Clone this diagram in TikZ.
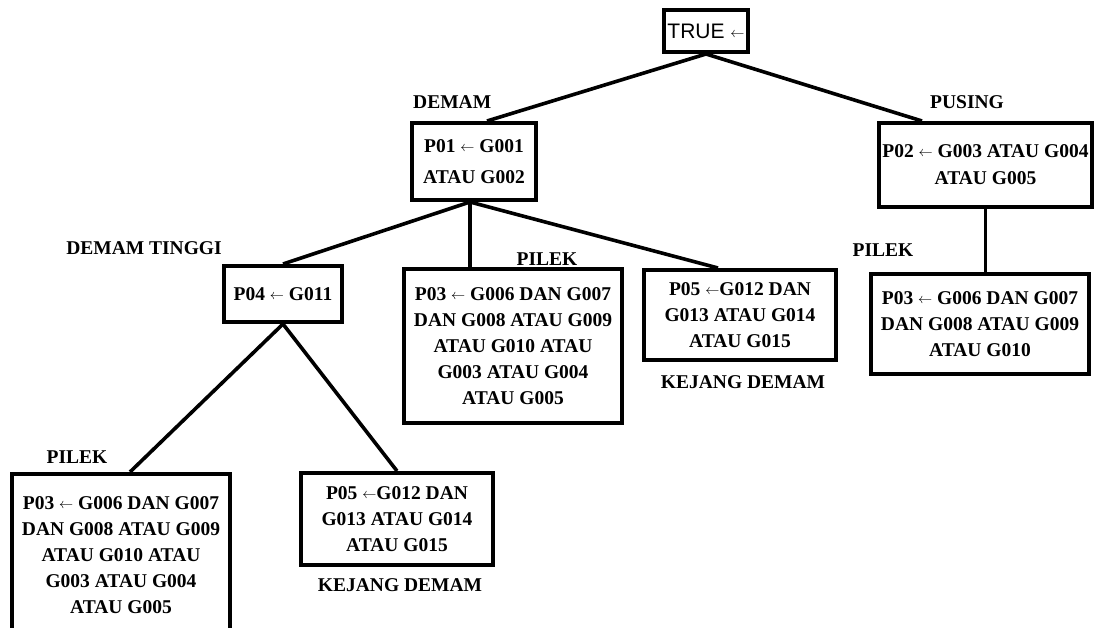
\documentclass[tikz,border=0pt]{standalone}
\usepackage{fontspec}
\setmainfont{Liberation Serif}
\newfontfamily\truefont{Liberation Sans}
\usetikzlibrary{calc}
% a short, light left arrow used inside the rules
\newcommand\ruleArrow{\raisebox{0.1ex}{\scalebox{0.68}{$\leftarrow$}}}
\begin{document}
\begin{tikzpicture}[x=1pt,y=-1pt,
  rulebox/.style={draw,line width=4pt,inner sep=0pt,align=center,
    font=\fontsize{19.5}{26}\selectfont\bfseries},
  lbl/.style={inner sep=0pt,font=\fontsize{19.5}{24}\selectfont\bfseries},
  link/.style={line width=3.6pt}]
\useasboundingbox (0,0) rectangle (1096,628);
\clip (0,0) rectangle (1096,628);

% rule boxes
\node[rulebox,minimum width=84,minimum height=42,
  font=\truefont\fontsize{21}{24}\selectfont] (true) at (706,31) {TRUE \ruleArrow};
\node[rulebox,minimum width=124,minimum height=77,
  font=\fontsize{19.5}{31}\selectfont\bfseries] (p01) at (474,161.5)
  {P01 \ruleArrow\ G001\\ATAU G002};
\node[rulebox,minimum width=213,minimum height=84,
  font=\fontsize{19.5}{27}\selectfont\bfseries] (p02) at (985.5,165)
  {P02 \ruleArrow\ G003 ATAU G004\\ATAU G005};
\node[rulebox,minimum width=218,minimum height=100] (p03r) at (980,324.5)
  {P03 \ruleArrow\ G006 DAN G007\\DAN G008 ATAU G009\\ATAU G010};
\node[rulebox,minimum width=118,minimum height=56] (p04) at (283,294)
  {P04 \ruleArrow\ G011};
\node[rulebox,minimum width=218,minimum height=154] (p03m) at (513,346)
  {P03 \ruleArrow\ G006 DAN G007\\DAN G008 ATAU G009\\ATAU G010 ATAU\\G003 ATAU G004\\ATAU G005};
\node[rulebox,minimum width=192,minimum height=90] (p05m) at (740,315)
  {P05 \ruleArrow G012 DAN\\G013 ATAU G014\\ATAU G015};
\node[rulebox,minimum width=218,minimum height=162] (p03l) at (121,555)
  {P03 \ruleArrow\ G006 DAN G007\\DAN G008 ATAU G009\\ATAU G010 ATAU\\G003 ATAU G004\\ATAU G005};
\node[rulebox,minimum width=192,minimum height=92] (p05l) at (397,519)
  {P05 \ruleArrow G012 DAN\\G013 ATAU G014\\ATAU G015};

% branch labels
\node[lbl,anchor=west] (lDemam) at (413,102) {DEMAM};
\node[lbl] (lPusing) at (967,102) {PUSING};
\node[lbl] (lPilekR) at (883,250) {PILEK};
\node[lbl] (lTinggi) at (144,248) {DEMAM TINGGI};
\node[lbl] (lPilekM) at (547,259) {PILEK};
\node[lbl] (lKejangM) at (743,382) {KEJANG DEMAM};
\node[lbl] (lPilekL) at (77,457) {PILEK};
\node[lbl] (lKejangL) at (400,585) {KEJANG DEMAM};

% connectors
\coordinate (p01s) at ($(p01.south)+(-4,0)$);
\draw[link] (true.south) -- ($(p01.north)+(13,0)$);
\draw[link] (true.south) -- ($(p02.north west)+(45,0)$);
\draw[link] (p02.south) -- (p02.south |- p03r.north);
\draw[link] (p01s) -- (p04.north);
\draw[link] (p01s) -- (p01s |- p03m.north);
\draw[link] (p01s) -- ($(p05m.north)+(-22,0)$);
\draw[link] (p04.south) -- ($(p03l.north)+(9,0)$);
\draw[link] (p04.south) -- (p05l.north);
\end{tikzpicture}
\end{document}
